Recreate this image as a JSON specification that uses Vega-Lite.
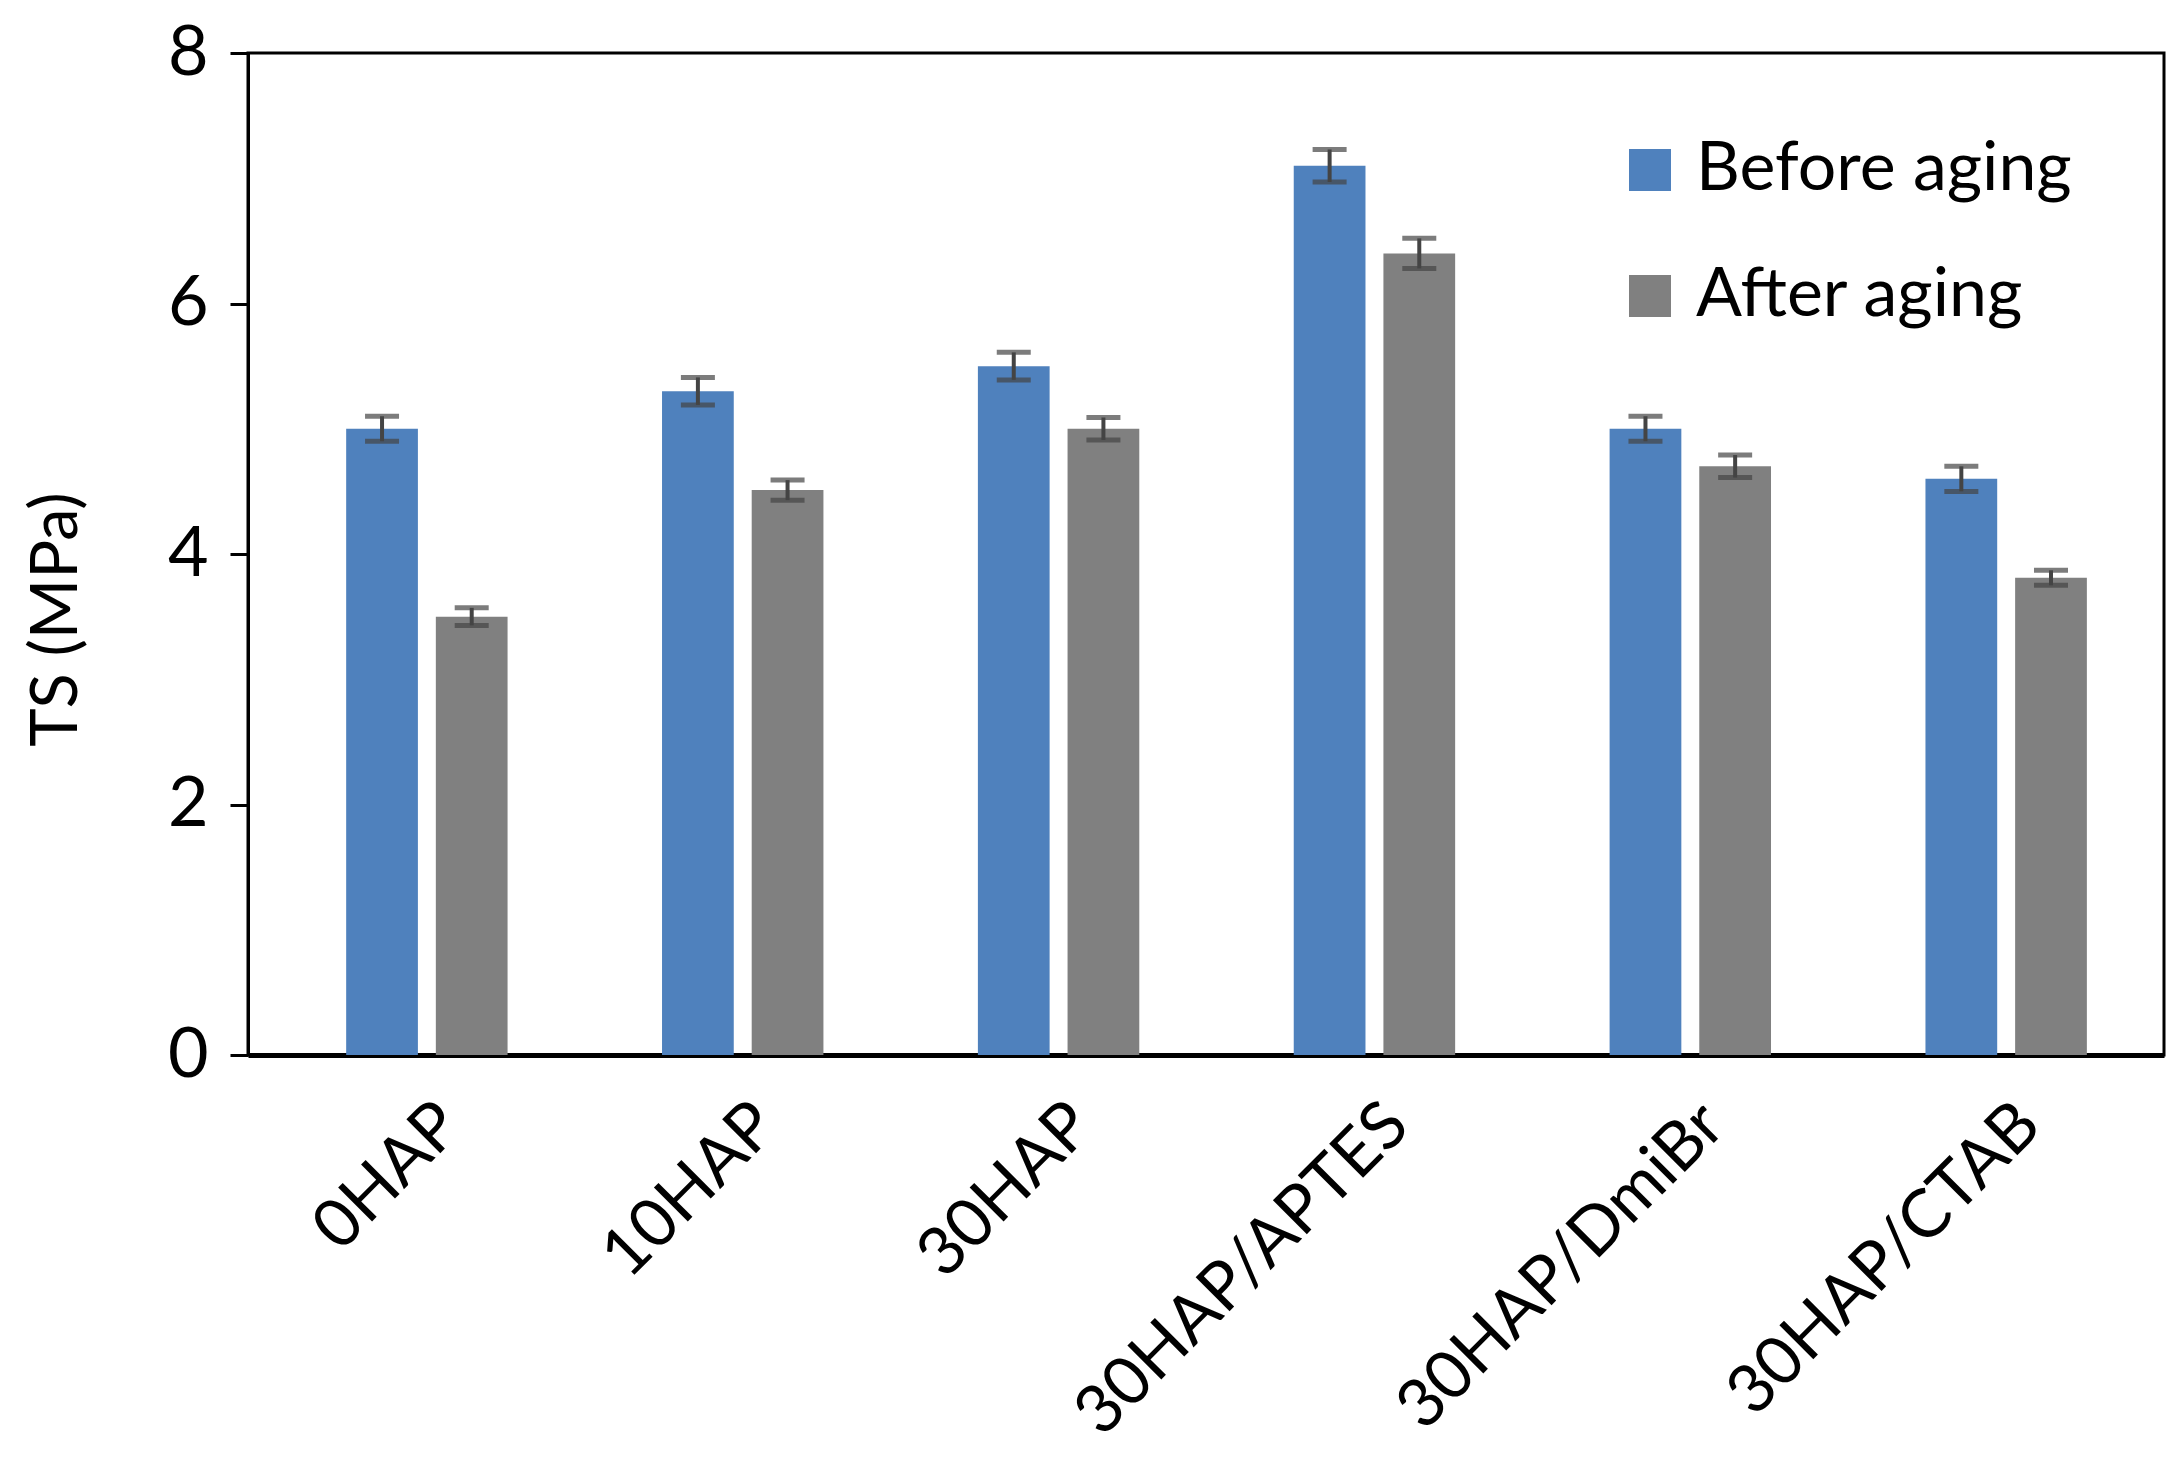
{
  "$schema": "https://vega.github.io/schema/vega-lite/v6.json",
  "width": 1916,
  "height": 1002,
  "autosize": {"type": "none"},
  "padding": {"left": 248, "top": 53, "right": 18, "bottom": 418},
  "background": "white",
  "config": {
    "font": "Lato",
    "view": {"stroke": "black", "strokeWidth": 3},
    "axisY": {
      "grid": false,
      "domainColor": "black",
      "domainWidth": 3,
      "tickColor": "black",
      "tickWidth": 3,
      "tickSize": 18,
      "labelFontSize": 70,
      "labelColor": "black",
      "labelPadding": 22,
      "titleFontSize": 65,
      "titleFontWeight": "normal",
      "titleColor": "black",
      "titleX": -192,
      "titleY": 566,
      "titleAngle": -90,
      "titleAlign": "center",
      "titleBaseline": "middle"
    },
    "axisX": {
      "domainColor": "black",
      "domainWidth": 5,
      "ticks": false,
      "labelAngle": -45,
      "labelFontSize": 67,
      "labelColor": "black",
      "labelPadding": 36,
      "labelLimit": 1000
    }
  },
  "data": {
    "values": [
      {"sample": "0HAP", "cond": "Before aging", "ts": 5.0, "lo": 4.9, "hi": 5.1},
      {"sample": "0HAP", "cond": "After aging", "ts": 3.5, "lo": 3.43, "hi": 3.57},
      {"sample": "10HAP", "cond": "Before aging", "ts": 5.3, "lo": 5.19, "hi": 5.41},
      {"sample": "10HAP", "cond": "After aging", "ts": 4.51, "lo": 4.43, "hi": 4.59},
      {"sample": "30HAP", "cond": "Before aging", "ts": 5.5, "lo": 5.39, "hi": 5.61},
      {"sample": "30HAP", "cond": "After aging", "ts": 5.0, "lo": 4.91, "hi": 5.09},
      {"sample": "30HAP/APTES", "cond": "Before aging", "ts": 7.1, "lo": 6.97, "hi": 7.23},
      {"sample": "30HAP/APTES", "cond": "After aging", "ts": 6.4, "lo": 6.28, "hi": 6.52},
      {"sample": "30HAP/DmiBr", "cond": "Before aging", "ts": 5.0, "lo": 4.9, "hi": 5.1},
      {"sample": "30HAP/DmiBr", "cond": "After aging", "ts": 4.7, "lo": 4.61, "hi": 4.79},
      {"sample": "30HAP/CTAB", "cond": "Before aging", "ts": 4.6, "lo": 4.5, "hi": 4.7},
      {"sample": "30HAP/CTAB", "cond": "After aging", "ts": 3.81, "lo": 3.75, "hi": 3.87}
    ]
  },
  "encoding": {
    "x": {
      "field": "sample",
      "type": "nominal",
      "sort": ["0HAP", "10HAP", "30HAP", "30HAP/APTES", "30HAP/DmiBr", "30HAP/CTAB"],
      "scale": {"paddingInner": 0.489, "paddingOuter": 0.2775, "align": 0.56},
      "title": null
    },
    "xOffset": {
      "field": "cond",
      "type": "nominal",
      "sort": ["Before aging", "After aging"],
      "scale": {"paddingInner": 0.2, "paddingOuter": 0}
    }
  },
  "layer": [
    {
      "mark": {"type": "bar"},
      "encoding": {
        "y": {"field": "ts", "type": "quantitative", "scale": {"domain": [0, 8], "nice": false}, "title": "TS (MPa)", "axis": {"values": [0, 2, 4, 6, 8], "format": "d"}},
        "color": {
          "field": "cond",
          "type": "nominal",
          "sort": ["Before aging", "After aging"],
          "scale": {"domain": ["Before aging", "After aging"], "range": ["#4F81BD", "#808080"]},
          "legend": {
            "orient": "none",
            "legendX": 1368,
            "legendY": 83,
            "title": null,
            "symbolType": "square",
            "symbolSize": 1764,
            "symbolStrokeWidth": 0,
            "symbolOpacity": 1,
            "labelFontSize": 68,
            "labelColor": "black",
            "labelLimit": 1000,
            "labelOffset": 12,
            "rowPadding": 58
          }
        }
      }
    },
    {
      "mark": {"type": "rule", "color": "#444444", "strokeWidth": 4},
      "encoding": {
        "y": {"field": "lo", "type": "quantitative", "title": "TS (MPa)", "axis": {"values": [0, 2, 4, 6, 8], "format": "d"}},
        "y2": {"field": "hi"}
      }
    },
    {
      "mark": {"type": "tick", "color": "#444444", "thickness": 5, "size": 34},
      "encoding": {
        "y": {"field": "lo", "type": "quantitative", "title": "TS (MPa)", "axis": {"values": [0, 2, 4, 6, 8], "format": "d"}}
      }
    },
    {
      "mark": {"type": "tick", "color": "#444444", "thickness": 5, "size": 34},
      "encoding": {
        "y": {"field": "hi", "type": "quantitative", "title": "TS (MPa)", "axis": {"values": [0, 2, 4, 6, 8], "format": "d"}}
      }
    }
  ]
}
